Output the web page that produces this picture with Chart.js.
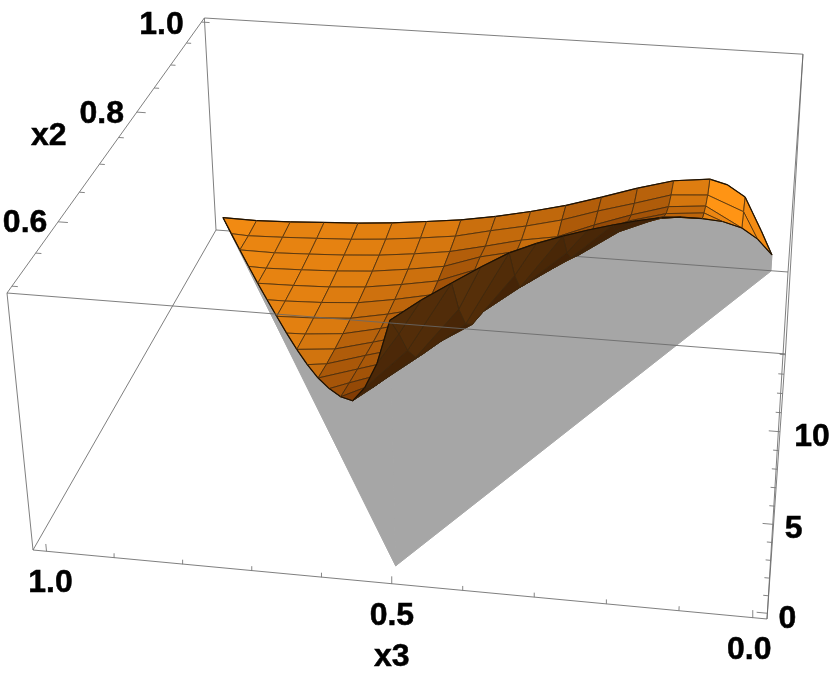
<!DOCTYPE html>
<html>
<head>
<meta charset="utf-8">
<style>
  html, body { margin: 0; padding: 0; background: #fff; }
  canvas { display: block; }
</style>
<script src="https://cdn.jsdelivr.net/npm/chart.js@4"></script>
</head>
<body>
<canvas id="chart" width="830" height="673"></canvas>
<script>
// x3 column and x2 row levels of the mesh
const x3Levels = [1, 0.9375, 0.875, 0.8125, 0.75, 0.6875, 0.625, 0.5625, 0.5, 0.4375, 0.375, 0.3125, 0.25, 0.1875, 0.125, 0.0625, 0.01];
const x2Levels = [1, 0.96875, 0.9375, 0.90625, 0.875, 0.84375, 0.8125, 0.78125, 0.75, 0.71875, 0.6875, 0.65625, 0.625, 0.59375, 0.5625, 0.53125, 0.5];

// surface height per x3 column, starting at x2 = 1 and going down to the edge of the region
const surfaceZ = [
  [0.94],
  [0.90, 0.90, 1.0],
  [0.98, 0.97, 0.98, 1.03, 1.13],
  [1.11, 1.07, 1.07, 1.1, 1.17, 1.27, 1.42],
  [1.24, 1.18, 1.18, 1.2, 1.25, 1.36, 1.5, 1.64, 1.85],
  [1.43, 1.36, 1.35, 1.37, 1.43, 1.53, 1.67, 1.85, 2.07, 2.35, 2.7],
  [1.69, 1.62, 1.62, 1.68, 1.78, 1.93, 2.13, 2.38, 2.7, 3.07, 3.45, 3.85, 4.27],
  [1.98, 1.92, 1.95, 2.05, 2.2, 2.42, 2.7, 3.0, 3.35, 3.75, 4.2, 4.7, 5.4, 6.3, 7.5],
  [2.38, 2.46, 2.49, 2.86, 3.1, 3.37, 3.8, 4.18, 4.58, 5.1, 5.7, 6.4, 7.2, 8.2, 9.8, 11.9, 13.8],
  [2.89, 2.95, 3.07, 3.4, 3.75, 4.15, 4.6, 5.2, 5.9, 6.6, 7.3, 7.9, 9.1, 11.1, 13.66],
  [3.47, 3.53, 3.47, 3.7, 4.2, 4.9, 5.49, 6.3, 7.2, 8.15, 9.1, 10.9, 13.27],
  [4.2, 4.3, 4.42, 4.75, 5.3, 6.0, 6.8, 7.8, 8.8, 10.2, 12.23],
  [4.97, 4.98, 5.25, 5.9, 6.7, 7.55, 8.4, 9.5, 10.92],
  [5.63, 5.7, 5.96, 6.55, 7.4, 8.35, 9.41],
  [5.9, 5.86, 6.17, 6.76, 7.45],
  [4.87, 4.93, 4.91],
  [1.11]
];
// heights where the x2 rows meet the two slanted edges, between the columns
const leftEdgeZ = [0.96, 1.06, 1.26, 1.6, 2.2, 3.4, 5.4, 10.2];
const rightEdgeZ = [13.8, 13.5, 12.8, 11.6, 10.2, 8.5, 6.3, 3.2];
// extra readings along x2 = 1 where the ridge turns down fast
const ridgeX3 = [0.09375, 0.03125];
const ridgeZ = [5.6, 2.7];

const x3Ticks = [1, 0.9, 0.8, 0.7, 0.6, 0.5, 0.4, 0.3, 0.2, 0.1, 0];
const x2Ticks = [1, 0.95, 0.9, 0.85, 0.8, 0.75, 0.7, 0.65, 0.6, 0.55, 0.5];
const zTicks = [0, 1, 2, 3, 4, 5, 6, 7, 8, 9, 10, 11, 12, 13, 14];
const x3Labels = ['1.0', '0.5', '0.0'];
const x2Labels = ['1.0', '0.8', '0.6'];
const zLabels = ['0', '5', '10'];

// view of the box, fitted to its corners
function toUnit(x3, x2, z) {
  return { s: (1.02 - x3) / 1.04, t: (x2 - 0.49) / 0.52, h: (z + 0.329) / 14.37 };
}
function project(x3, x2, z) {
  const { s, t, h } = toUnit(x3, x2, z);
  const w = 1 - 0.04334 * s + 0.28481 * t - 0.056 * h;
  return {
    x: (33 + 700.76 * s + 244.52 * t - 26.39 * h) / w,
    y: (550 + 42.17 * s - 254.5 * t - 273.4 * h) / w
  };
}
function fromUnit(s, t, h) {
  return [1.02 - 1.04 * s, 0.49 + 0.52 * t, 14.37 * h - 0.329];
}

const datasets = [];
function addLine(points, color, width) {
  datasets.push({
    data: points.map(p => project(p[0], p[1], p[2])),
    borderColor: color,
    borderWidth: width,
    showLine: true,
    pointRadius: 0,
    tension: 0,
    fill: false
  });
}
function addPolygon(points, color, stroke) {
  const closed = points.concat([points[0]]);
  datasets.push({
    data: closed.map(p => project(p[0], p[1], p[2])),
    faceColor: color,
    borderColor: stroke || 'rgba(0,0,0,0)',
    borderWidth: stroke ? 1 : 0,
    showLine: true,
    pointRadius: 0,
    tension: 0,
    fill: false
  });
}

// surface vertices
function vertex(i, k) {
  return [x3Levels[i], x2Levels[k], surfaceZ[i][k]];
}
function leftMid(i) {
  return [(x3Levels[i] + x3Levels[i + 1]) / 2, x2Levels[2 * i + 1], leftEdgeZ[i]];
}
function rightMid(i) {
  return [(x3Levels[i] + x3Levels[i + 1]) / 2, x2Levels[2 * (16 - i) - 1], rightEdgeZ[i - 8]];
}
function ridge(n) {
  return [ridgeX3[n], 1, ridgeZ[n]];
}

function shadeFace(points) {
  const u = points.map(p => {
    const a = toUnit(p[0], p[1], p[2]);
    return [a.s * 1.4, a.t, a.h * 0.9];
  });
  let nx = 0, ny = 0, nz = 0, area = 0;
  const scr = points.map(p => project(p[0], p[1], p[2]));
  for (let n = 0; n < u.length; n++) {
    const a = u[n], b = u[(n + 1) % u.length];
    nx += (a[1] - b[1]) * (a[2] + b[2]);
    ny += (a[2] - b[2]) * (a[0] + b[0]);
    nz += (a[0] - b[0]) * (a[1] + b[1]);
    const c = scr[n], d = scr[(n + 1) % u.length];
    area += c.x * d.y - d.x * c.y;
  }
  const len = Math.hypot(nx, ny, nz) || 1;
  if (nz < 0) { nx = -nx; ny = -ny; nz = -nz; }
  nx /= len; ny /= len; nz /= len;
  if (area < 0) {
    // seen from below
    const d = Math.min(1, nz * 2.2);
    return `rgb(${Math.round(108 - 42 * d)},${Math.round(62 - 28 * d)},${Math.round(13 - 7 * d)})`;
  }
  let light = 0.7 * nx - 0.25 * ny + 0.86 * nz;
  light = Math.max(0, Math.min(1, light));
  return `rgb(${Math.round(130 + 125 * light)},${Math.round(60 + 88 * light)},${Math.round(4 + 16 * light)})`;
}

function faceDepth(points) {
  let sum = 0;
  points.forEach(p => {
    const a = toUnit(p[0], p[1], p[2]);
    sum += a.t - 0.04 * a.s;
  });
  return sum / points.length;
}

const faces = [];
const edgeColor = 'rgb(30,18,4)';
const meshColor = 'rgba(60,40,15,0.78)';
function addFace(points, edges) {
  faces.push({ points, edges: edges || [], depth: faceDepth(points) });
}
for (let i = 0; i < 16; i++) {
  const left = surfaceZ[i], right = surfaceZ[i + 1];
  const rows = Math.min(left.length, right.length) - 1;
  for (let k = 0; k < rows; k++) {
    if (k === 0 && i === 14) {
      addFace([vertex(14, 0), ridge(0), vertex(15, 0), vertex(15, 1), vertex(14, 1)],
        [[vertex(14, 0), ridge(0)], [ridge(0), vertex(15, 0)]]);
      continue;
    }
    const edges = k === 0 ? [[vertex(i, 0), vertex(i + 1, 0)]] : [];
    addFace([vertex(i, k), vertex(i + 1, k), vertex(i + 1, k + 1), vertex(i, k + 1)], edges);
  }
  if (i < 8) {
    const k = 2 * i;
    const mid = leftMid(i);
    const top = i === 0 ? [[vertex(0, 0), vertex(1, 0)]] : [];
    addFace([vertex(i, k), vertex(i + 1, k), vertex(i + 1, k + 1), mid], top.concat([[vertex(i, k), mid]]));
    addFace([mid, vertex(i + 1, k + 1), vertex(i + 1, k + 2)], [[mid, vertex(i + 1, k + 2)]]);
  } else if (i === 15) {
    const mid = rightMid(15);
    addFace([vertex(15, 0), ridge(1), vertex(16, 0), mid, vertex(15, 1)],
      [[vertex(15, 0), ridge(1)], [ridge(1), vertex(16, 0)], [vertex(16, 0), mid]]);
    addFace([vertex(15, 1), mid, vertex(15, 2)], [[mid, vertex(15, 2)]]);
  } else {
    const k = 2 * (15 - i);
    const mid = rightMid(i);
    addFace([vertex(i, k), vertex(i + 1, k), mid, vertex(i, k + 1)], [[vertex(i + 1, k), mid]]);
    addFace([vertex(i, k + 1), mid, vertex(i, k + 2)], [[mid, vertex(i, k + 2)]]);
  }
}
faces.sort((a, b) => b.depth - a.depth);

// box corners in plot units
const A = fromUnit(0, 0, 0), B = fromUnit(1, 0, 0), C = fromUnit(0, 1, 0), D = fromUnit(1, 1, 0);
const A2 = fromUnit(0, 0, 1), B2 = fromUnit(1, 0, 1), C2 = fromUnit(0, 1, 1), D2 = fromUnit(1, 1, 1);
const boxColor = 'rgba(105,105,105,0.85)';

[[A, A2], [A2, C2], [C2, D2], [D2, D], [C, C2], [A, C], [A, B], [B, B2], [B, D], [B2, D2]].forEach(e => addLine(e, boxColor, 1));

// gray sheet under the surface
const grayColor = 'rgb(166,166,166)';
const frontFloor = [0.5, 0.505, 0];
const rightFloor = [x3Levels[16], 1, 0];
const rightSheet = [frontFloor, rightFloor, vertex(16, 0)];
for (let i = 15; i >= 8; i--) {
  rightSheet.push(rightMid(i));
  rightSheet.push(vertex(i, 2 * (16 - i)));
}
addPolygon(rightSheet, grayColor, grayColor);
const leftSheet = [frontFloor, vertex(0, 0)];
for (let i = 0; i < 8; i++) {
  leftSheet.push(leftMid(i));
  leftSheet.push(vertex(i + 1, 2 * (i + 1)));
}
addPolygon(leftSheet, grayColor, grayColor);
addLine([C, D], boxColor, 1);

faces.forEach(f => {
  addPolygon(f.points, shadeFace(f.points), meshColor);
  f.edges.forEach(e => addLine(e, edgeColor, 1.2));
});

addLine([A2, B2], boxColor, 1);

// ticks
const tickColor = 'rgba(120,120,120,0.9)';
x3Ticks.forEach((v, n) => {
  const u = toUnit(v, 0.5, 0);
  const major = n % 5 === 0;
  addLine([fromUnit(u.s, 0, 0), fromUnit(u.s, 0, major ? 0.03 : 0.018)], tickColor, 1);
});
x2Ticks.forEach((v, n) => {
  const u = toUnit(1, v, 0);
  const major = n % 4 === 0;
  addLine([fromUnit(0, u.t, 1), fromUnit(major ? 0.014 : 0.008, u.t, 1)], tickColor, 1);
});
zTicks.forEach((v, n) => {
  const u = toUnit(0, 0.5, v);
  const major = n % 5 === 0;
  addLine([fromUnit(1, 0, u.h), fromUnit(major ? 0.986 : 0.993, 0, u.h)], tickColor, 1);
});

// painter's order: first dataset added is drawn first
datasets.forEach((d, n) => { d.order = datasets.length - n; });

const faceFillPlugin = {
  id: 'faceFill',
  beforeDatasetDraw(chart, args) {
    const ds = chart.data.datasets[args.index];
    if (!ds.faceColor) return;
    const pts = args.meta.data;
    const ctx = chart.ctx;
    ctx.save();
    ctx.beginPath();
    pts.forEach((p, n) => (n ? ctx.lineTo(p.x, p.y) : ctx.moveTo(p.x, p.y)));
    ctx.closePath();
    ctx.fillStyle = ds.faceColor;
    ctx.fill();
    // small seam cover between neighbours
    ctx.strokeStyle = ds.faceColor;
    ctx.lineWidth = 0.6;
    ctx.stroke();
    ctx.restore();
  }
};

const labelPlugin = {
  id: 'axisText',
  afterDraw(chart) {
    const ctx = chart.ctx;
    const sx = chart.scales.x, sy = chart.scales.y;
    ctx.save();
    ctx.fillStyle = '#000';
    ctx.strokeStyle = '#000';
    ctx.lineWidth = 0.5;
    ctx.font = 'bold 32px "Liberation Sans", Arial, sans-serif';
    ctx.textAlign = 'center';
    ctx.textBaseline = 'middle';
    function put(text, at, dx, dy) {
      const x = sx.getPixelForValue(at.x) + dx, y = sy.getPixelForValue(at.y) + dy + 2;
      ctx.fillText(text, x, y);
      ctx.strokeText(text, x, y);
    }
    put(x3Labels[0], project(1, 0.49, -0.329), 4, 30);
    put(x3Labels[1], project(0.5, 0.49, -0.329), 0, 30);
    put(x3Labels[2], project(0, 0.49, -0.329), -3, 31);
    put('x3', project(0.5, 0.49, -0.329), 0, 71);
    put(x2Labels[0], project(1.02, 1, 14.04), -40, 1);
    put(x2Labels[1], project(1.02, 0.8, 14.04), -35, 0);
    put(x2Labels[2], project(1.02, 0.6, 14.04), -33, -1);
    put('x2', project(1.02, 0.8, 14.04), -88, 22);
    put(zLabels[0], project(-0.02, 0.49, 0), 20, 4);
    put(zLabels[1], project(-0.02, 0.49, 5), 20, 3);
    put(zLabels[2], project(-0.02, 0.49, 10), 32, 3);
    ctx.restore();
  }
};

new Chart(document.getElementById('chart').getContext('2d'), {
  type: 'scatter',
  data: { datasets },
  plugins: [faceFillPlugin, labelPlugin],
  options: {
    responsive: false,
    animation: false,
    layout: { padding: 0 },
    plugins: { legend: { display: false }, tooltip: { enabled: false } },
    scales: {
      x: { type: 'linear', display: false, min: 0, max: 830 },
      y: { type: 'linear', display: false, min: 0, max: 673, reverse: true }
    }
  }
});
</script>
</body>
</html>
